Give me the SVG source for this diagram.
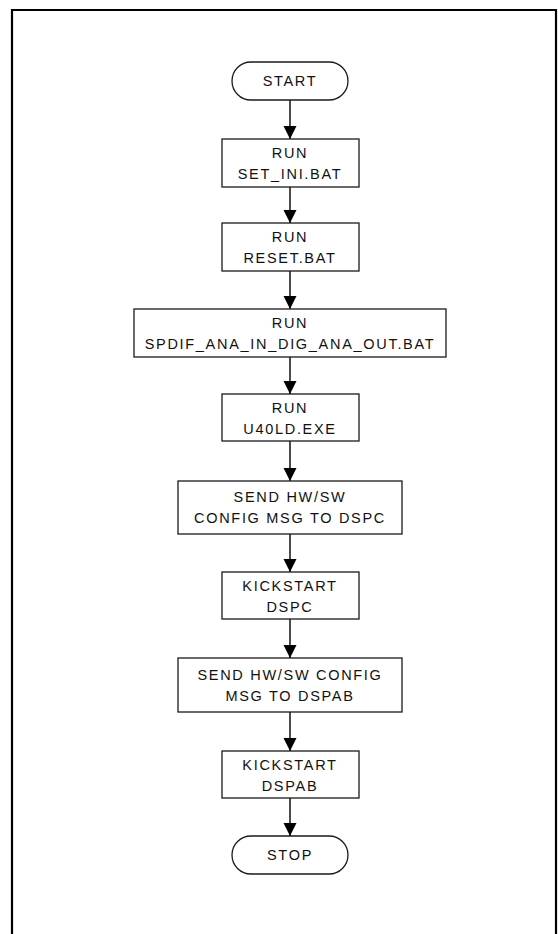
<svg xmlns="http://www.w3.org/2000/svg" width="558" height="934" viewBox="0 0 558 934">
  <style>
    .frame { fill: none; stroke: #000; stroke-width: 2.2; }
    .box { fill: #fff; stroke: #1a1a1a; stroke-width: 1.3; }
    .lbl { font-family: "Liberation Sans", Arial, sans-serif; font-size: 14.5px; letter-spacing: 1.7px; fill: #111; text-anchor: middle; }
    .conn { stroke: #000; stroke-width: 1.4; fill: none; }
  </style>
  <defs>
    <marker id="arrow" markerUnits="userSpaceOnUse" markerWidth="14" markerHeight="14" viewBox="0 0 14 14" refX="13" refY="7" orient="auto">
      <path d="M0,0.5 L13,7 L0,13.5 Z" fill="#000"/>
    </marker>
  </defs>

  <rect width="558" height="934" fill="#fff"/>
  <path class="frame" d="M12,934 V10 H556 V934"/>

  <g id="connectors">
    <line class="conn" x1="290" y1="100" x2="290" y2="139" marker-end="url(#arrow)"/>
    <line class="conn" x1="290" y1="187" x2="290" y2="223" marker-end="url(#arrow)"/>
    <line class="conn" x1="290" y1="271" x2="290" y2="309" marker-end="url(#arrow)"/>
    <line class="conn" x1="290" y1="357" x2="290" y2="394" marker-end="url(#arrow)"/>
    <line class="conn" x1="290" y1="441" x2="290" y2="481" marker-end="url(#arrow)"/>
    <line class="conn" x1="290" y1="534" x2="290" y2="572" marker-end="url(#arrow)"/>
    <line class="conn" x1="290" y1="619" x2="290" y2="658" marker-end="url(#arrow)"/>
    <line class="conn" x1="290" y1="712" x2="290" y2="751" marker-end="url(#arrow)"/>
    <line class="conn" x1="290" y1="798" x2="290" y2="836" marker-end="url(#arrow)"/>
  </g>

  <g id="start">
    <rect class="box" x="232" y="62" width="116" height="38" rx="19"/>
    <text class="lbl" x="290" y="86">START</text>
  </g>

  <g id="set-ini">
    <rect class="box" x="222" y="139" width="137" height="48"/>
    <text class="lbl" x="290" y="158">RUN</text>
    <text class="lbl" x="290" y="179">SET_INI.BAT</text>
  </g>

  <g id="reset">
    <rect class="box" x="222" y="223" width="137" height="48"/>
    <text class="lbl" x="290" y="242">RUN</text>
    <text class="lbl" x="290" y="263">RESET.BAT</text>
  </g>

  <g id="spdif">
    <rect class="box" x="134" y="309" width="312" height="48"/>
    <text class="lbl" x="290" y="328">RUN</text>
    <text class="lbl" x="290" y="349">SPDIF_ANA_IN_DIG_ANA_OUT.BAT</text>
  </g>

  <g id="u40ld">
    <rect class="box" x="222" y="394" width="137" height="47"/>
    <text class="lbl" x="290" y="413">RUN</text>
    <text class="lbl" x="290" y="434">U40LD.EXE</text>
  </g>

  <g id="config-dspc">
    <rect class="box" x="178" y="481" width="224" height="53"/>
    <text class="lbl" x="290" y="502">SEND HW/SW</text>
    <text class="lbl" x="290" y="523">CONFIG MSG TO DSPC</text>
  </g>

  <g id="kick-dspc">
    <rect class="box" x="222" y="572" width="137" height="47"/>
    <text class="lbl" x="290" y="591">KICKSTART</text>
    <text class="lbl" x="290" y="612">DSPC</text>
  </g>

  <g id="config-dspab">
    <rect class="box" x="178" y="658" width="224" height="54"/>
    <text class="lbl" x="290" y="680">SEND HW/SW CONFIG</text>
    <text class="lbl" x="290" y="701">MSG TO DSPAB</text>
  </g>

  <g id="kick-dspab">
    <rect class="box" x="222" y="751" width="137" height="47"/>
    <text class="lbl" x="290" y="770">KICKSTART</text>
    <text class="lbl" x="290" y="791">DSPAB</text>
  </g>

  <g id="stop">
    <rect class="box" x="232" y="836" width="116" height="38" rx="19"/>
    <text class="lbl" x="290" y="860">STOP</text>
  </g>
</svg>
